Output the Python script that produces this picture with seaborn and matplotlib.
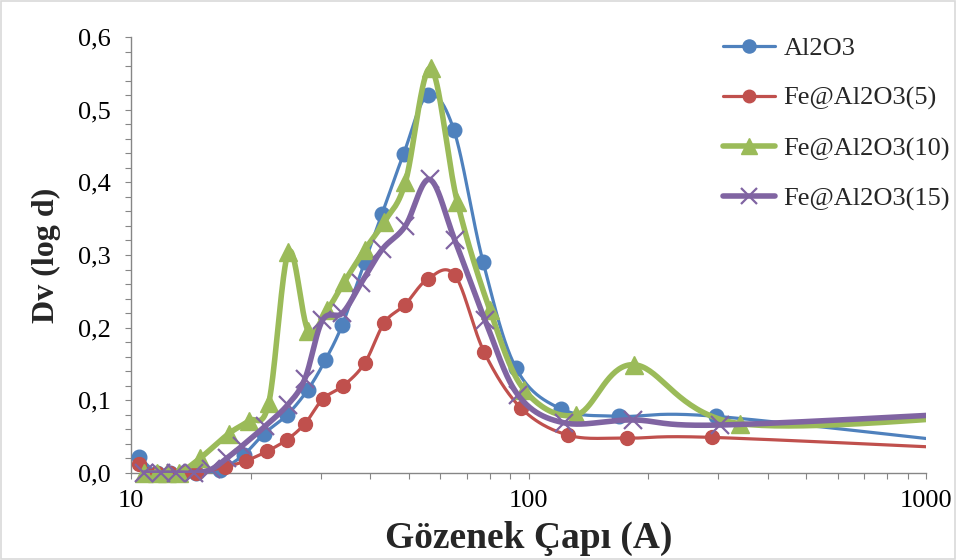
import numpy as np
import matplotlib
matplotlib.use("Agg")
import matplotlib.pyplot as plt
import seaborn as sns
from matplotlib.lines import Line2D
from matplotlib.patches import Rectangle
from matplotlib.ticker import FixedLocator, MultipleLocator, FuncFormatter, NullFormatter, LogLocator

sns.set_theme(style="white")
plt.rcParams['font.family'] = ['Liberation Serif', 'DejaVu Serif']

# Pore size distributions (BJH), pore diameter in angstrom vs dV/dlog(D)
labels = ["Al2O3", "Fe@Al2O3(5)", "Fe@Al2O3(10)", "Fe@Al2O3(15)"]

al2o3_d = [10.5, 11.6, 12.5, 13.5, 14.6, 16.7, 19.2, 21.6, 24.7, 27.8, 30.8, 34.0, 38.7,
           42.8, 48.5, 55.8, 64.9, 76.9, 93.1, 121, 169, 296, 1600]
al2o3_dv = [0.022, 0.0, 0.0, 0.0, 0.0, 0.004, 0.025, 0.054, 0.080, 0.114, 0.155, 0.204, 0.29,
            0.356, 0.439, 0.52, 0.472, 0.29, 0.144, 0.088, 0.078, 0.078, 0.035]

fe5_d = [10.5, 11.6, 12.5, 13.5, 14.6, 17.2, 19.5, 22.0, 24.7, 27.4, 30.4, 34.2, 38.7,
         43.4, 48.8, 55.8, 65.3, 77.4, 95.9, 126, 177, 290, 1600]
fe5_dv = [0.012, 0.0, 0.0, 0.0, 0.0, 0.008, 0.017, 0.030, 0.046, 0.068, 0.102, 0.120, 0.151,
          0.207, 0.231, 0.267, 0.272, 0.166, 0.089, 0.052, 0.048, 0.049, 0.031]

fe10_d = [10.8, 11.6, 12.3, 13.2, 14.9, 17.6, 19.8, 22.2, 24.9, 27.9, 31.2, 34.4, 38.7,
          43.4, 49.0, 56.7, 66.2, 80.0, 97.7, 132, 184, 340, 1600]
fe10_dv = [0.0, 0.0, 0.0, 0.0, 0.02, 0.054, 0.072, 0.096, 0.304, 0.196, 0.225, 0.263, 0.307,
           0.346, 0.40, 0.557, 0.373, 0.224, 0.114, 0.08, 0.149, 0.068, 0.081]

fe15_d = [10.8, 11.9, 13.0, 14.4, 15.9, 17.4, 19.0, 21.7, 24.8, 27.4, 30.3, 34.0, 38.0,
          42.9, 49.0, 56.4, 65.3, 77.8, 94.2, 123, 183, 303, 1600]
fe15_dv = [0.0, 0.0, 0.0, 0.0, 0.005, 0.02, 0.037, 0.064, 0.094, 0.13, 0.21, 0.22, 0.262,
           0.308, 0.34, 0.404, 0.32, 0.21, 0.107, 0.069, 0.073, 0.066, 0.085]

x_ticks = [10, 100, 1000]
y_ticks = [0.0, 0.1, 0.2, 0.3, 0.4, 0.5, 0.6]

colors = ["#4F81BD", "#C0504D", "#9BBB59", "#8064A2"]
markers = ["o", "o", "^", "x"]
marker_sizes = [10.5, 10, 13, 13]
line_widths = [2.3, 2.3, 4.0, 4.0]

fig = plt.figure(figsize=(9.57, 5.6), dpi=100)
left_px, right_px, top_px, bottom_px = 131, 926, 37, 473
ax = fig.add_axes([left_px / 957, 1 - bottom_px / 560,
                   (right_px - left_px) / 957, (bottom_px - top_px) / 560])
ax.set_xscale("log")
ax.set_xlim(10, 1000)
ax.set_ylim(0, 0.6)

# screen-space scale factors used for the smoothed (Bezier) connecting curves
SX = (right_px - left_px) / 2.0
SY = (bottom_px - top_px) / 0.6


def smooth_curve(xs, ys, n=40):
    u = np.log10(np.asarray(xs, float)) * SX
    v = np.asarray(ys, float) * SY
    P = np.column_stack([u, v])
    ext = np.vstack([P[0], P, P[-1]])
    t = np.linspace(0, 1, n)[:, None]
    parts = []
    for i in range(len(P) - 1):
        p0, p1, p2, p3 = ext[i], ext[i + 1], ext[i + 2], ext[i + 3]
        c1 = p1 + (p2 - p0) / 6.0
        c2 = p2 - (p3 - p1) / 6.0
        seg = ((1 - t) ** 3) * p1 + 3 * ((1 - t) ** 2) * t * c1 + 3 * (1 - t) * t ** 2 * c2 + t ** 3 * p2
        parts.append(seg if i == 0 else seg[1:])
    arr = np.vstack(parts)
    return 10 ** (arr[:, 0] / SX), arr[:, 1] / SY


series = [(al2o3_d, al2o3_dv), (fe5_d, fe5_dv), (fe10_d, fe10_dv), (fe15_d, fe15_dv)]
for k, (d, dv) in enumerate(series):
    cx, cy = smooth_curve(d, dv)
    sns.lineplot(x=cx, y=cy, sort=False, estimator=None, color=colors[k],
                 linewidth=line_widths[k], ax=ax, zorder=2 + k)
    # markers sitting on the zero line stay whole (not cut by the axes box)
    if markers[k] == "x":
        ax.plot(d, dv, linestyle="none", marker="x", markersize=marker_sizes[k],
                markeredgewidth=1.6, color=colors[k], zorder=2 + k, clip_on=False)
    else:
        ax.plot(d, dv, linestyle="none", marker=markers[k], markersize=marker_sizes[k],
                markerfacecolor=colors[k], markeredgecolor=colors[k], zorder=2 + k,
                clip_on=False)

# axes styling
for s in ["top", "right"]:
    ax.spines[s].set_visible(False)
for s in ["left", "bottom"]:
    ax.spines[s].set_color("#868686")
    ax.spines[s].set_linewidth(1.0)
    ax.spines[s].set_zorder(1)

ax.xaxis.set_major_locator(FixedLocator(x_ticks))
ax.xaxis.set_minor_locator(LogLocator(base=10, subs=np.arange(2, 10)))
ax.xaxis.set_major_formatter(FuncFormatter(lambda v, p: f"{int(round(v))}"))
ax.xaxis.set_minor_formatter(NullFormatter())
ax.yaxis.set_major_locator(FixedLocator(y_ticks))
ax.yaxis.set_minor_locator(MultipleLocator(0.02))
ax.yaxis.set_major_formatter(FuncFormatter(lambda v, p: f"{v:.1f}".replace(".", ",")))

ax.tick_params(axis="both", which="both", direction="out", length=4.5, width=0.8,
               color="#868686", labelcolor="black", labelsize=19)
ax.tick_params(axis="y", which="both", pad=10, left=True)
ax.tick_params(axis="x", which="both", pad=8, bottom=True)

ax.set_xlabel("Gözenek Çapı (A)", fontsize=27, fontweight="bold", labelpad=6)
ax.set_ylabel("Dv (log d)", fontsize=23, fontweight="bold", labelpad=12)

handles = [Line2D([], [], color=colors[k], linewidth=line_widths[k], marker=markers[k],
                  markersize=marker_sizes[k] * 0.9, markeredgewidth=1.6 if markers[k] == "x" else 1.0)
           for k in range(4)]
fig.legend(handles, labels, loc="upper left", bbox_to_anchor=(712 / 957, 1 - 26 / 560),
           frameon=False, fontsize=19, handlelength=2.0, handletextpad=0.3,
           labelspacing=1.0, borderaxespad=0)

fig.patches.append(Rectangle((0.001, 0.001), 0.997, 0.997, transform=fig.transFigure,
                             fill=False, edgecolor="#D9D9D9", linewidth=1.2))

fig.savefig("out.png", dpi=100, facecolor="white")
